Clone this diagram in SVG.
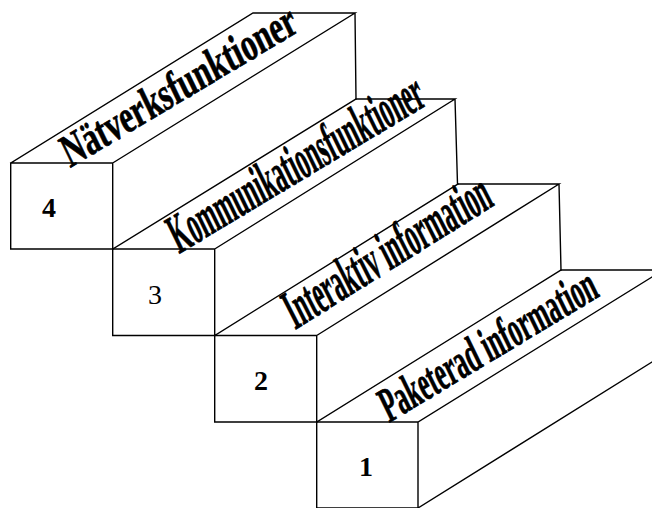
<svg xmlns="http://www.w3.org/2000/svg" width="652" height="508" viewBox="0 0 652 508">
  <style>
    .edge { fill: none; stroke: #000; stroke-width: 1.4; stroke-linejoin: miter; stroke-linecap: square; }
    .num { font-family: "Liberation Serif", "Times New Roman", serif; font-size: 28px; font-weight: bold; text-anchor: middle; fill: #000; }
    .lbl { font-family: "Liberation Serif", "Times New Roman", serif; font-weight: bold; fill: #000; stroke: #000; stroke-width: 0.7; }
  </style>
  <rect width="652" height="508" fill="#fff"/>

  <!-- step 4 (top) -->
  <g id="step4">
    <path class="edge" d="M10.7,163 H112.7 V249 H10.7 Z M10.7,163 L253,13 H355 L112.7,163 M355,13 L356,99 M112.7,249 L356,99"/>
    <text class="num" x="49" y="217">4</text>
    <text class="lbl" x="0" y="0" font-size="46" transform="translate(70,168) rotate(-30.8) skewX(-5) scale(0.69,1)">Nätverksfunktioner</text>
  </g>

  <!-- step 3 -->
  <g id="step3">
    <path class="edge" d="M112.7,249 H214.7 V335.5 H112.7 Z M356,99 H455 L214.7,249 M455,99 L457.5,184 M214.7,335.5 L458,184"/>
    <text class="num" x="155" y="304" style="font-weight:normal">3</text>
    <text class="lbl" x="0" y="0" font-size="55" transform="translate(179,254) rotate(-31) skewX(-5) scale(0.44,1)">Kommunikationsfunktioner</text>
  </g>

  <!-- step 2 -->
  <g id="step2">
    <path class="edge" d="M214.7,335.5 H316.7 V422 H214.7 Z M458,184 H559 L316.7,335.5 M559,184 L561,270 M316.7,422 L561,270"/>
    <text class="num" x="261" y="390">2</text>
    <text class="lbl" x="0" y="0" font-size="56" transform="translate(295,330) rotate(-32) skewX(-5) scale(0.435,1)">Interaktiv information</text>
  </g>

  <!-- step 1 (bottom) -->
  <g id="step1">
    <path class="edge" d="M316.7,422 H418 V508 H316.7 Z M561,270 H652 M418,422 L652,277 M418,508 L652,362"/>
    <text class="num" x="366" y="476">1</text>
    <text class="lbl" x="0" y="0" font-size="49" transform="translate(389,423) rotate(-31) skewX(-5) scale(0.517,1)">Paketerad information</text>
  </g>
</svg>
